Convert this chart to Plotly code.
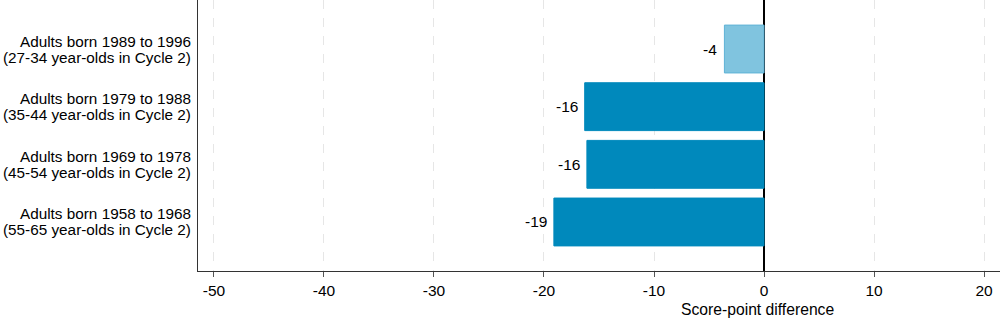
import plotly.graph_objects as go

categories = [
    "Adults born 1958 to 1968 (55-65 year-olds in Cycle 2)",
    "Adults born 1969 to 1978 (45-54 year-olds in Cycle 2)",
    "Adults born 1979 to 1988 (35-44 year-olds in Cycle 2)",
    "Adults born 1989 to 1996 (27-34 year-olds in Cycle 2)",
]
label_line1 = [
    "Adults born 1958 to 1968",
    "Adults born 1969 to 1978",
    "Adults born 1979 to 1988",
    "Adults born 1989 to 1996",
]
label_line2 = [
    "(55-65 year-olds in Cycle 2)",
    "(45-54 year-olds in Cycle 2)",
    "(35-44 year-olds in Cycle 2)",
    "(27-34 year-olds in Cycle 2)",
]
values = [-19.1, -16.1, -16.3, -3.6]
value_labels = ["-19", "-16", "-16", "-4"]
bar_colors = ["#0089BC", "#0089BC", "#0089BC", "#80C4DF"]
bar_line_colors = ["#0089BC", "#0089BC", "#0089BC", "#5FB3D6"]
tick_values = [-50, -40, -30, -20, -10, 0, 10, 20]
tick_labels = ["-50", "-40", "-30", "-20", "-10", "0", "10", "20"]

font_family = "Liberation Sans, Arial, sans-serif"

fig = go.Figure()
fig.add_trace(go.Bar(
    y=categories,
    x=values,
    orientation="h",
    width=0.83,
    marker=dict(color=bar_colors, line=dict(color=bar_line_colors, width=1)),
    hoverinfo="x+y",
))

annotations = []
for cat, v, lab in zip(categories, values, value_labels):
    annotations.append(dict(
        x=v, y=cat, xref="x", yref="y", text=lab, showarrow=False,
        xanchor="right", yanchor="middle", xshift=-5,
        font=dict(size=15.5, color="#000000"),
    ))
for cat, l1, l2 in zip(categories, label_line1, label_line2):
    annotations.append(dict(
        x=0, y=cat, xref="paper", yref="y", text=l1, showarrow=False,
        xanchor="right", yanchor="middle", xshift=-5, yshift=8,
        font=dict(size=15.3, color="#000000"),
    ))
    annotations.append(dict(
        x=0, y=cat, xref="paper", yref="y", text=l2, showarrow=False,
        xanchor="right", yanchor="middle", xshift=-5, yshift=-8,
        font=dict(size=15.3, color="#000000"),
    ))
annotations.append(dict(
    x=0, xref="x", y=0, yref="paper", yanchor="top", yshift=-28, xshift=-7,
    text="Score-point difference", showarrow=False,
    font=dict(size=15.7, color="#000000"),
))

fig.update_layout(
    width=1000,
    height=318,
    margin=dict(l=198, r=0, t=0, b=47),
    paper_bgcolor="white",
    plot_bgcolor="white",
    showlegend=False,
    font=dict(family=font_family, size=15, color="#000000"),
    xaxis=dict(
        range=[-51.45, 21.45],
        tickvals=tick_values,
        ticktext=tick_labels,
        ticks="outside",
        ticklen=5,
        tickcolor="#555555",
        showgrid=True,
        gridcolor="#E6E6E6",
        griddash="dash",
        gridwidth=1,
        zeroline=True,
        zerolinecolor="#000000",
        zerolinewidth=1.5,
        showline=True,
        linecolor="#333333",
        linewidth=1,
        tickfont=dict(size=15.5, color="#000000"),
    ),
    yaxis=dict(
        range=[-0.85, 3.85],
        showline=True,
        linecolor="#333333",
        linewidth=1,
        ticks="",
        showgrid=False,
        showticklabels=False,
    ),
    annotations=annotations,
)

fig.write_html("out.html")
